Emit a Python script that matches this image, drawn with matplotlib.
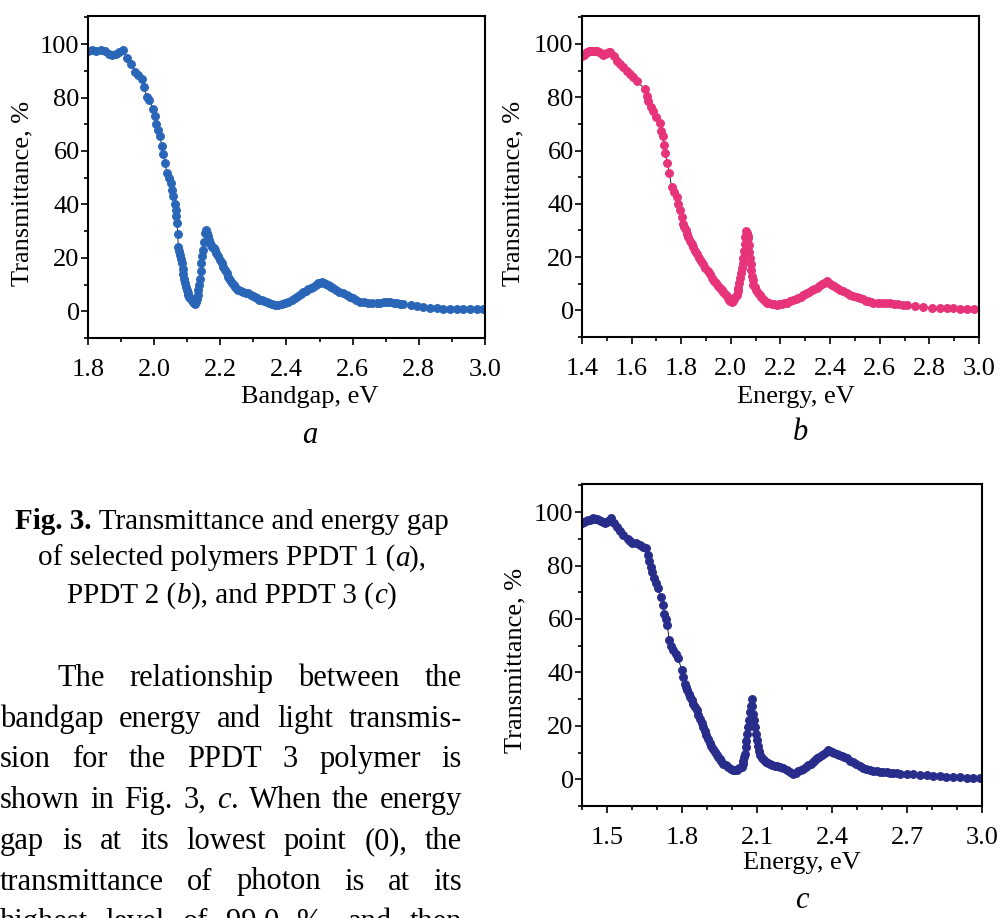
import numpy as np
import matplotlib
matplotlib.use("Agg")
import matplotlib.pyplot as plt

plt.rcParams['font.family'] = ['Liberation Serif', 'DejaVu Serif']
plt.rcParams['mathtext.fontset'] = 'custom'
plt.rcParams['mathtext.rm'] = 'Liberation Serif'
plt.rcParams['mathtext.it'] = 'Liberation Serif:italic'
plt.rcParams['mathtext.bf'] = 'Liberation Serif:bold'

# PPDT 1 (a): bandgap, eV / transmittance, %
x_a = [1.800, 1.812, 1.825, 1.838, 1.850, 1.862, 1.872, 1.885, 1.895, 1.905,
       1.917, 1.930, 1.942, 1.952, 1.962, 1.970, 1.977, 1.985, 1.997, 2.003,
       2.007, 2.012, 2.017, 2.023, 2.028, 2.033, 2.038, 2.045, 2.051, 2.055,
       2.058, 2.062, 2.065, 2.067, 2.069, 2.071, 2.073, 2.075, 2.077, 2.080,
       2.083, 2.086, 2.088, 2.091, 2.093, 2.096, 2.098, 2.101, 2.103, 2.106,
       2.108, 2.111, 2.113, 2.116, 2.118, 2.121, 2.123, 2.126, 2.128, 2.131,
       2.133, 2.136, 2.138, 2.141, 2.143, 2.146, 2.148, 2.151, 2.153, 2.156,
       2.158, 2.161, 2.163, 2.166, 2.168, 2.172, 2.175, 2.180, 2.184, 2.188,
       2.192, 2.198, 2.204, 2.209, 2.214, 2.219, 2.224, 2.230, 2.235, 2.240,
       2.245, 2.250, 2.254, 2.262, 2.270, 2.278, 2.285, 2.292, 2.300, 2.306,
       2.312, 2.318, 2.325, 2.332, 2.340, 2.348, 2.355, 2.365, 2.375, 2.385,
       2.395, 2.405, 2.416, 2.425, 2.435, 2.443, 2.451, 2.458, 2.466, 2.474,
       2.481, 2.488, 2.495, 2.500, 2.506, 2.513, 2.520, 2.525, 2.530, 2.536,
       2.542, 2.551, 2.560, 2.571, 2.582, 2.591, 2.600, 2.611, 2.622, 2.633,
       2.645, 2.659, 2.673, 2.684, 2.695, 2.704, 2.713, 2.724, 2.735, 2.744,
       2.753, 2.775, 2.793, 2.812, 2.834, 2.855, 2.874, 2.894, 2.914, 2.935,
       2.955, 2.975, 2.995]
y_a = [97.5, 97.6, 97.5, 97.7, 97.4, 96.2, 96.0, 96.3, 97.2, 97.8,
       94.6, 92.5, 89.6, 88.5, 87.0, 84.0, 80.2, 79.0, 75.8, 73.0,
       70.0, 68.0, 65.7, 62.0, 58.8, 55.5, 51.9, 50.0, 48.1, 45.5,
       43.0, 40.0, 38.0, 35.5, 33.0, 29.0, 24.2, 22.5, 21.0, 19.5,
       18.0, 16.0, 14.0, 12.2, 10.5, 9.2, 8.0, 7.0, 6.0, 5.5,
       5.0, 4.5, 4.1, 3.7, 3.3, 3.1, 2.9, 3.6, 4.5, 6.0,
       7.9, 9.9, 12.0, 15.0, 18.0, 20.5, 23.0, 26.0, 29.3, 30.0,
       30.5, 29.2, 28.0, 26.7, 25.5, 24.7, 24.0, 23.5, 23.0, 21.8,
       20.5, 19.2, 18.0, 16.7, 15.5, 14.2, 12.9, 11.7, 10.5, 9.7,
       9.0, 8.4, 7.9, 7.5, 7.2, 6.9, 6.7, 6.1, 5.6, 5.2,
       4.8, 4.4, 4.1, 3.7, 3.4, 3.1, 2.8, 2.5, 2.3, 2.6,
       3.0, 3.5, 4.1, 4.9, 5.8, 6.6, 7.3, 7.7, 8.2, 8.7,
       9.2, 9.8, 10.4, 10.7, 11.0, 10.6, 10.2, 9.8, 9.4, 9.0,
       8.6, 8.0, 7.4, 6.7, 6.0, 5.4, 4.8, 4.1, 3.5, 3.3,
       3.2, 3.1, 3.1, 3.2, 3.3, 3.4, 3.5, 3.2, 3.0, 2.8,
       2.6, 2.3, 1.9, 1.5, 1.2, 1.1, 1.0, 1.0, 1.0, 0.9,
       0.8, 0.7, 0.7]

# PPDT 2 (b): energy, eV / transmittance, %
x_b = [1.400, 1.408, 1.415, 1.422, 1.430, 1.438, 1.446, 1.453, 1.460, 1.468,
       1.475, 1.486, 1.493, 1.500, 1.507, 1.513, 1.527, 1.540, 1.553, 1.566,
       1.580, 1.593, 1.607, 1.620, 1.654, 1.660, 1.667, 1.677, 1.687, 1.700,
       1.714, 1.720, 1.725, 1.730, 1.735, 1.744, 1.752, 1.761, 1.771, 1.781,
       1.788, 1.795, 1.802, 1.808, 1.813, 1.818, 1.823, 1.828, 1.835, 1.842,
       1.848, 1.855, 1.863, 1.872, 1.880, 1.889, 1.897, 1.906, 1.914, 1.923,
       1.931, 1.940, 1.948, 1.956, 1.963, 1.970, 1.977, 1.983, 1.988, 1.993,
       1.998, 2.003, 2.008, 2.013, 2.018, 2.023, 2.027, 2.030, 2.034, 2.037,
       2.041, 2.044, 2.047, 2.050, 2.053, 2.056, 2.058, 2.061, 2.063, 2.066,
       2.068, 2.070, 2.073, 2.075, 2.078, 2.080, 2.083, 2.085, 2.088, 2.090,
       2.096, 2.103, 2.110, 2.117, 2.123, 2.130, 2.137, 2.144, 2.155, 2.165,
       2.175, 2.185, 2.195, 2.205, 2.215, 2.225, 2.238, 2.252, 2.262, 2.272,
       2.281, 2.290, 2.298, 2.306, 2.316, 2.326, 2.336, 2.346, 2.356, 2.366,
       2.376, 2.386, 2.396, 2.406, 2.416, 2.427, 2.440, 2.453, 2.466, 2.480,
       2.493, 2.507, 2.520, 2.534, 2.544, 2.554, 2.564, 2.574, 2.591, 2.608,
       2.624, 2.641, 2.658, 2.675, 2.692, 2.709, 2.742, 2.776, 2.810, 2.843,
       2.870, 2.897, 2.924, 2.951, 2.978]
y_b = [95.5, 96.0, 96.5, 96.9, 97.2, 97.4, 97.5, 97.4, 97.3, 96.9,
       96.5, 95.8, 96.1, 96.5, 96.8, 97.1, 95.5, 93.7, 92.5, 91.2,
       89.8, 88.6, 87.5, 86.1, 83.0, 80.5, 78.5, 76.5, 74.7, 72.5,
       70.3, 67.5, 65.3, 62.0, 59.0, 55.2, 51.4, 46.3, 44.5, 42.5,
       40.0, 37.5, 35.0, 32.5, 31.2, 30.0, 28.7, 27.4, 26.1, 24.8,
       23.6, 22.3, 21.0, 19.8, 18.5, 17.3, 16.0, 14.7, 13.5, 12.2,
       11.2, 10.3, 9.3, 8.4, 7.6, 6.8, 6.0, 5.3, 4.6, 4.0,
       3.5, 3.1, 3.6, 4.2, 5.0, 5.9, 7.2, 8.5, 10.3, 12.2,
       14.1, 16.0, 17.9, 19.8, 22.4, 25.0, 27.4, 29.9, 29.2, 28.5,
       27.8, 27.0, 24.5, 22.0, 19.6, 17.3, 15.1, 13.0, 11.3, 9.7,
       8.6, 7.5, 6.7, 5.9, 5.0, 4.2, 3.5, 2.8, 2.6, 2.4,
       2.3, 2.2, 2.3, 2.5, 2.6, 2.8, 3.4, 4.0, 4.3, 4.7,
       5.2, 5.8, 6.2, 6.6, 7.0, 7.5, 8.0, 8.4, 9.1, 9.8,
       10.4, 11.0, 10.3, 9.6, 9.0, 8.4, 7.7, 7.1, 6.5, 5.9,
       5.4, 4.9, 4.5, 4.1, 3.7, 3.4, 3.1, 2.8, 2.8, 2.8,
       2.8, 2.8, 2.5, 2.3, 2.1, 1.9, 1.5, 1.1, 1.0, 0.9,
       0.8, 0.7, 0.6, 0.6, 0.6]

# PPDT 3 (c): energy, eV / transmittance, %
x_c = [1.400, 1.408, 1.415, 1.422, 1.430, 1.438, 1.445, 1.453, 1.460, 1.468,
       1.475, 1.484, 1.492, 1.498, 1.505, 1.510, 1.515, 1.527, 1.539, 1.552,
       1.565, 1.582, 1.590, 1.599, 1.616, 1.632, 1.645, 1.656, 1.665, 1.670,
       1.675, 1.681, 1.688, 1.697, 1.705, 1.715, 1.723, 1.730, 1.736, 1.741,
       1.749, 1.757, 1.765, 1.775, 1.785, 1.799, 1.806, 1.812, 1.817, 1.822,
       1.827, 1.832, 1.839, 1.845, 1.852, 1.859, 1.866, 1.872, 1.879, 1.885,
       1.892, 1.898, 1.905, 1.912, 1.918, 1.925, 1.932, 1.939, 1.945, 1.952,
       1.958, 1.965, 1.975, 1.985, 1.995, 2.005, 2.013, 2.022, 2.030, 2.039,
       2.043, 2.046, 2.049, 2.052, 2.055, 2.058, 2.062, 2.065, 2.068, 2.072,
       2.075, 2.079, 2.082, 2.085, 2.088, 2.092, 2.095, 2.099, 2.104, 2.109,
       2.114, 2.119, 2.127, 2.135, 2.143, 2.152, 2.162, 2.172, 2.182, 2.192,
       2.205, 2.219, 2.232, 2.245, 2.255, 2.265, 2.275, 2.285, 2.295, 2.305,
       2.315, 2.325, 2.334, 2.342, 2.350, 2.359, 2.372, 2.385, 2.394, 2.402,
       2.410, 2.419, 2.429, 2.439, 2.449, 2.459, 2.472, 2.485, 2.498, 2.512,
       2.525, 2.538, 2.552, 2.565, 2.579, 2.592, 2.605, 2.619, 2.632, 2.645,
       2.659, 2.672, 2.699, 2.725, 2.752, 2.779, 2.805, 2.832, 2.858, 2.885,
       2.912, 2.939, 2.965, 2.992]
y_c = [96.0, 96.2, 96.5, 96.9, 97.2, 97.4, 97.6, 97.5, 97.4, 97.1,
       96.8, 96.4, 96.0, 96.4, 96.8, 97.2, 97.6, 96.0, 94.5, 93.0,
       91.4, 89.8, 89.1, 88.5, 88.3, 87.6, 86.9, 86.4, 83.9, 81.5,
       79.5, 77.5, 75.2, 73.3, 71.4, 68.3, 65.2, 62.0, 60.0, 57.7,
       52.0, 50.0, 48.3, 46.7, 45.2, 40.8, 38.3, 35.8, 34.5, 33.3,
       32.0, 30.8, 29.5, 28.3, 27.0, 25.8, 24.2, 22.7, 21.1, 19.6,
       18.0, 16.5, 14.9, 13.4, 12.3, 11.2, 10.1, 9.0, 8.2, 7.5,
       6.7, 5.9, 5.2, 4.6, 4.0, 3.4, 3.5, 3.6, 4.1, 4.6,
       5.8, 7.0, 8.3, 9.6, 12.0, 14.5, 17.0, 19.6, 22.3, 25.0,
       27.6, 30.2, 27.4, 24.6, 22.0, 19.5, 17.0, 14.6, 12.5, 10.5,
       9.1, 7.8, 7.1, 6.5, 6.0, 5.6, 5.3, 5.1, 4.8, 4.6,
       4.1, 3.6, 2.8, 2.1, 2.5, 3.0, 3.5, 4.0, 4.6, 5.2,
       5.8, 6.5, 7.2, 7.8, 8.4, 9.0, 10.0, 10.9, 10.5, 10.1,
       9.7, 9.4, 9.0, 8.6, 8.2, 7.8, 7.0, 6.3, 5.6, 4.9,
       4.4, 4.0, 3.5, 3.1, 3.0, 2.9, 2.8, 2.7, 2.5, 2.4,
       2.2, 2.1, 2.0, 1.9, 1.7, 1.5, 1.3, 1.1, 1.0, 0.9,
       0.8, 0.6, 0.6, 0.5]

# ticks
xticks_a = [1.8, 2.0, 2.2, 2.4, 2.6, 2.8, 3.0]
xticks_b = [1.4, 1.6, 1.8, 2.0, 2.2, 2.4, 2.6, 2.8, 3.0]
xticks_c = [1.5, 1.8, 2.1, 2.4, 2.7, 3.0]
yticks = [0, 20, 40, 60, 80, 100]

# caption lines as (text, weight, style) pieces
caption = [[("Fig. 3.", 'bold', 'normal'), (" Transmittance and energy gap", 'normal', 'normal')],
           [("of selected polymers PPDT 1 (", 'normal', 'normal'), ("a", 'normal', 'italic'),
            ("),", 'normal', 'normal')],
           [("PPDT 2 (", 'normal', 'normal'), ("b", 'normal', 'italic'),
            ("), and PPDT 3 (", 'normal', 'normal'), ("c", 'normal', 'italic'),
            (")", 'normal', 'normal')]]
body = ["The relationship between the",
        "bandgap energy and light transmis-",
        "sion for the PPDT 3 polymer is",
        r"shown in Fig. 3, $c$. When the energy",
        "gap is at its lowest point (0), the",
        "transmittance of photon is at its",
        "highest level of 99.0 %, and then"]

W, H = 1002, 918
fig = plt.figure(figsize=(W / 100, H / 100), dpi=100)
renderer = fig.canvas.get_renderer()


def box(left, top, right, bottom):
    return [left / W, 1 - bottom / H, (right - left) / W, (bottom - top) / H]


def ftext(x, y, s, **kw):
    return fig.text(x / W, 1 - y / H, s, **kw)


def panel(rect, x, y, color, xlim, xt, xlabel, letter, lab_pos):
    ax = fig.add_axes(rect)
    ax.plot(x, y, '-o', color='k', lw=0.6, ms=5.6, mew=0.8, mfc=color, mec=color)
    ax.set_xlim(*xlim)
    ax.set_ylim(-10, 110.5)
    ax.set_xticks(xt)
    ax.set_xticklabels(["%.1f" % v for v in xt])
    ax.set_xticks(np.arange(xlim[0], xlim[1] + 0.01, 0.1), minor=True)
    ax.set_yticks(yticks)
    ax.set_yticks(np.arange(-10, 111, 10), minor=True)
    ax.tick_params(which='both', direction='out', labelsize=19, width=1.2)
    ax.tick_params(which='major', length=5)
    ax.tick_params(which='minor', length=3)
    ax.tick_params(axis='x', pad=10)
    ax.tick_params(axis='y', pad=1)
    for s in ax.spines.values():
        s.set_linewidth(1.5)
    yl, xl, lt = lab_pos
    ftext(yl[0], yl[1], "Transmittance, %", rotation=90, ha='center', va='center', fontsize=19)
    ftext(xl[0], xl[1], xlabel, ha='center', va='center', fontsize=19)
    ftext(lt[0], lt[1], letter, ha='center', va='center', fontsize=22, style='italic')
    return ax


panel(box(88, 16, 485, 338), x_a, y_a, '#2a66b8', (1.8, 3.0), xticks_a,
      "Bandgap, eV", "a", ((22, 193), (310, 397), (310, 436)))
panel(box(582, 16, 979, 337), x_b, y_b, '#e6337a', (1.4, 3.0), xticks_b,
      "Energy, eV", "b", ((513, 193), (796, 397), (800, 432)))
panel(box(582, 484, 982, 806), x_c, y_c, '#282d8c', (1.4, 3.0), xticks_c,
      "Energy, eV", "c", ((515, 660), (802, 863), (802, 900)))

# caption: pieces laid side by side, line centred at x = 232
for i, pieces in enumerate(caption):
    base = 529 + 37 * i
    texts = [ftext(0, base, s, va='baseline', fontsize=21, weight=wt, style=st)
             for s, wt, st in pieces]
    widths = [t.get_window_extent(renderer).width for t in texts]
    xpos = 232 - sum(widths) / 2
    for t, w in zip(texts, widths):
        t.set_x(xpos / W)
        xpos += w

# body text, justified between left and right margins
# (the last line is cut by the bottom edge, as on the page)
for i, line in enumerate(body):
    base = 686 + 40.7 * i
    left = 57 if i == 0 else 0
    right = 462
    words = line.split(" ")
    texts = [ftext(0, base, w, va='baseline', fontsize=22) for w in words]
    widths = [t.get_window_extent(renderer).width for t in texts]
    gap = (right - left - sum(widths)) / (len(words) - 1)
    xpos = left
    for t, w in zip(texts, widths):
        t.set_x(xpos / W)
        xpos += w + gap

fig.savefig("out.png", dpi=100)
